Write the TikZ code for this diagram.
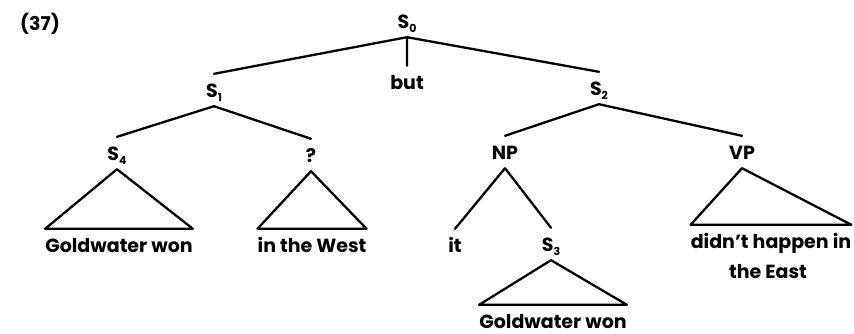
\documentclass[tikz,border=0pt]{standalone}
\usepackage{fontspec}
\setmainfont{Poppins}
\newcommand{\sbs}[1]{\raisebox{-4pt}{\fontsize{11}{11}\selectfont #1}}
\tikzset{
  lab/.style={font=\fontsize{19}{19}\selectfont\bfseries, inner sep=0pt,
    text height=23pt, text depth=9pt, anchor=base},
  branch/.style={line width=2.3pt, line cap=round, line join=round}
}

\begin{document}
\begin{tikzpicture}[x=1pt,y=-1pt]
\useasboundingbox (0,0) rectangle (854,333);
% labels
\node[lab] (num) at (40,30) {(37)};
\node[lab] (s0) at (407,28) {S\sbs{0}};
\node[lab] (but) at (407,89) {but};
\node[lab] (s1) at (214,97) {S\sbs{1}};
\node[lab] (s2) at (599,95) {S\sbs{2}};
\node[lab] (s4) at (117,160) {S\sbs{4}};
\node[lab] (q) at (311,162) {?};
\node[lab] (np) at (505,159) {NP};
\node[lab] (vp) at (742,159) {VP};
\node[lab] (it) at (455,252) {it};
\node[lab] (s3) at (551,251) {S\sbs{3}};
% leaves
\node[lab] (gw1) at (119,252) {Goldwater won};
\node[lab] (west) at (312,252) {in the West};
\node[lab] (gw2) at (553,328) {Goldwater won};
\node[lab] (vpl) at (771,248) {didn't happen in};
\node[lab] (east) at (768,278) {the East};
% branches
\draw[branch]
(s0.south) -- (s1.north)
(s0.south) -- (but.north)
(s0.south) -- (s2.north)
(s1.south) -- (s4.north)
(s1.south) -- (q.north)
(s2.south) -- (np.north)
(s2.south) -- (vp.north)
(np.south) -- (it.north)
(np.south) -- (s3.north);
% triangles
\draw[branch] (s4.south) -- (gw1.north west) -- (gw1.north east) -- cycle;
\draw[branch] (q.south) -- (west.north west) -- (west.north east) -- cycle;
\draw[branch] (s3.south) -- (gw2.north west) -- (gw2.north east) -- cycle;
\draw[branch] (vp.south) -- (vpl.north west) -- (vpl.north east) -- cycle;
\end{tikzpicture}
\end{document}
